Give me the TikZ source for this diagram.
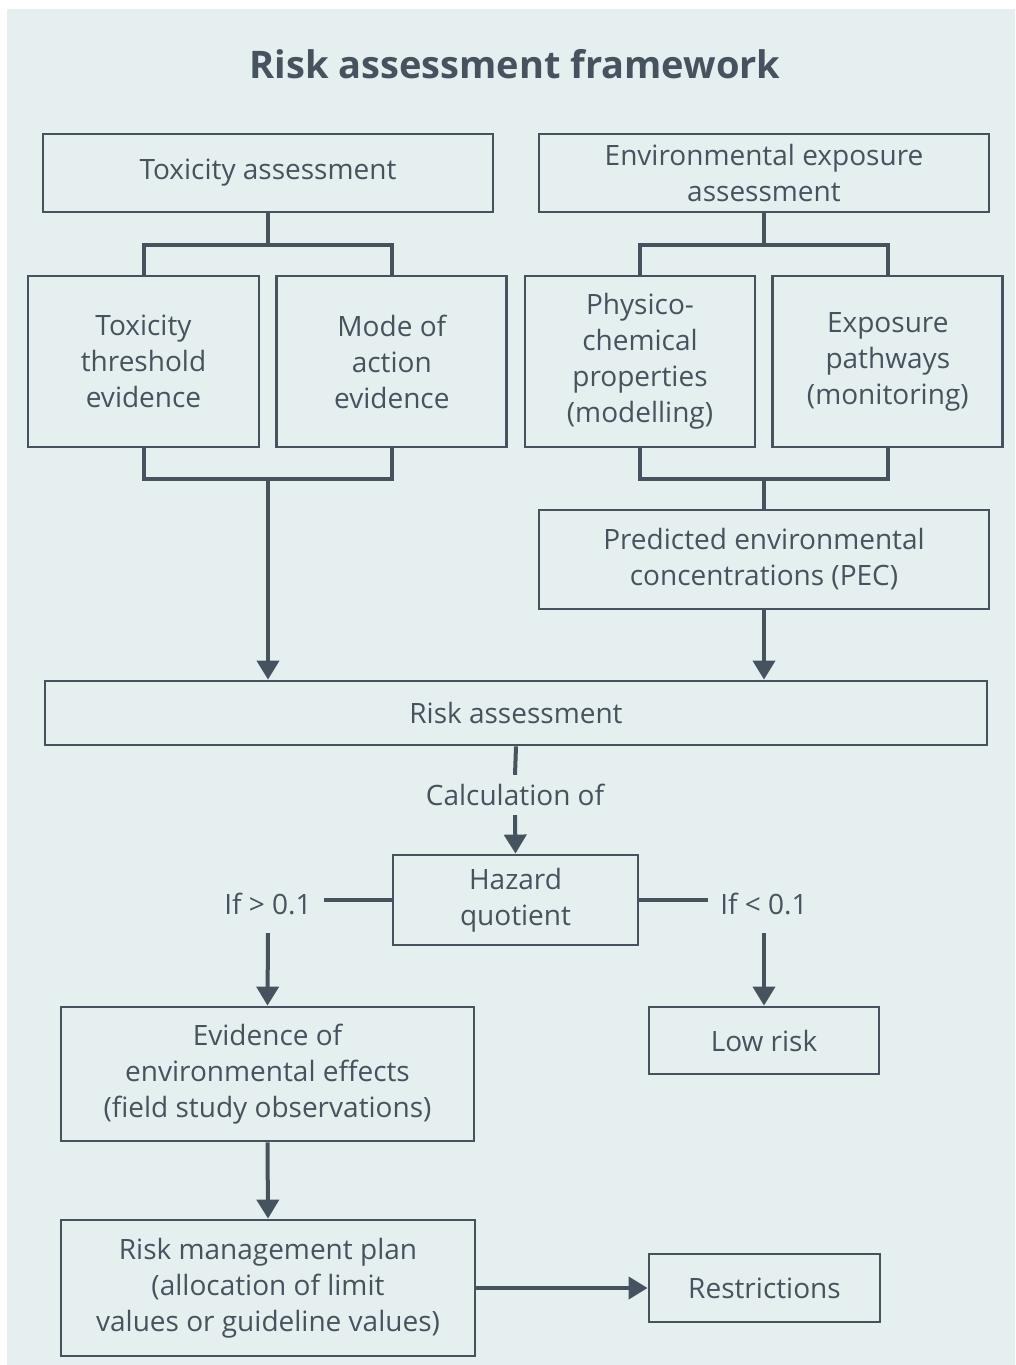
\documentclass[tikz,border=0pt]{standalone}
\usepackage{fontspec}
\setmainfont{Open Sans}
\usepackage{tikz}
\usetikzlibrary{arrows.meta,positioning}
\definecolor{rfslate}{RGB}{70,83,94}
\definecolor{rfback}{RGB}{230,239,240}
\tikzstyle{arrow} = [line width=4pt,-{Triangle[width=22pt,length=19pt]},color=rfslate]
\tikzstyle{link} = [line width=4pt,color=rfslate]
\tikzstyle{assessbox} = [rectangle, draw=rfslate, line width=2.8pt, text=rfslate, align=center, inner sep=0pt, font=\fontsize{28}{36}\selectfont]
\tikzstyle{labelnode} = [text=rfslate, inner sep=0pt, font=\fontsize{28}{36}\selectfont]

\begin{document}
\begin{tikzpicture}[x=1pt,y=-1pt]
\useasboundingbox (0,0) rectangle (1015,1365);
\fill[rfback] (7,9) rectangle (1015,1365);

% Title
\node[text=rfslate, font=\fontsize{38}{46}\selectfont\bfseries] (title) at (515,64) {Risk assessment framework};

% Toxicity
\node[assessbox, minimum width=450pt, minimum height=78pt] (tox) at (268,173) {Toxicity assessment};
\node[assessbox, minimum width=231pt, minimum height=171pt] (thr) at (143.5,361.5) {Toxicity\\threshold\\evidence};
\node[assessbox, minimum width=230pt, minimum height=171pt, right=15pt of thr] (moa) {Mode of\\action\\evidence};

% Exposure
\node[assessbox, minimum width=450pt, minimum height=78pt] (env) at (764,173) {Environmental exposure\\assessment};
\node[assessbox, minimum width=230pt, minimum height=171pt] (phys) at (640,361.5) {Physico-\\chemical\\properties\\(modelling)};
\node[assessbox, minimum width=230pt, minimum height=171pt, right=15pt of phys] (expo) {Exposure\\pathways\\(monitoring)};
\node[assessbox, minimum width=450pt, minimum height=99pt] (pec) at (764,559.5) {Predicted environmental\\concentrations (PEC)};

% Risk
\node[assessbox, minimum width=942pt, minimum height=64pt] (risk) at (516,713) {Risk assessment};
\node[labelnode, minimum height=40pt] (calc) at (515,795) {Calculation of};
\node[assessbox, minimum width=245pt, minimum height=90pt] (hq) at (515.5,900) {Hazard\\quotient};
\node[labelnode, inner xsep=12pt, minimum height=58pt] (gt) at (268,904) {If > 0.1};
\node[labelnode, inner xsep=12pt, minimum height=58pt] (lt) at (764,904) {If < 0.1};

% Outcomes
\node[assessbox, minimum width=413pt, minimum height=134pt] (evid) at (267.5,1074) {Evidence of\\environmental effects\\(field study observations)};
\node[assessbox, minimum width=230pt, minimum height=67pt] (low) at (764,1040.5) {Low risk};
\node[assessbox, minimum width=414pt, minimum height=136pt] (rmp) at (268,1288) {Risk management plan\\(allocation of limit\\values or guideline values)};
\node[assessbox, minimum width=231pt, minimum height=68pt] (restr) at (764.5,1288) {Restrictions};

% Junctions
\coordinate (tj) at (268,245);
\coordinate (bj) at (268,479);
\coordinate (ej) at (764,245);
\coordinate (pj) at (764,479);

\draw[link] (tox.south) -- (tj);
\draw[link] (thr.north) |- (tj) -| (moa.north);
\draw[link] (thr.south) |- (bj) -| (moa.south);
\draw[arrow] (bj) -- (bj |- risk.north);

\draw[link] (env.south) -- (ej);
\draw[link] (phys.north) |- (ej) -| (expo.north);
\draw[link] (phys.south) |- (pj) -| (expo.south);
\draw[link] (pj) -- (pec.north);
\draw[arrow] (pec.south) -- (pec.south |- risk.north);

\draw[link] (risk.south) -- (calc.north);
\draw[arrow] (calc.south) -- (hq.north);
\draw[link] (hq.west) -- (hq.west -| gt.east);
\draw[link] (hq.east) -- (hq.east -| lt.west);
\draw[arrow] (gt.south) -- (evid.north);
\draw[arrow] (lt.south) -- (low.north);
\draw[arrow] (evid.south) -- (rmp.north);
\draw[arrow] (rmp.east) -- (restr.west);
\end{tikzpicture}
\end{document}
